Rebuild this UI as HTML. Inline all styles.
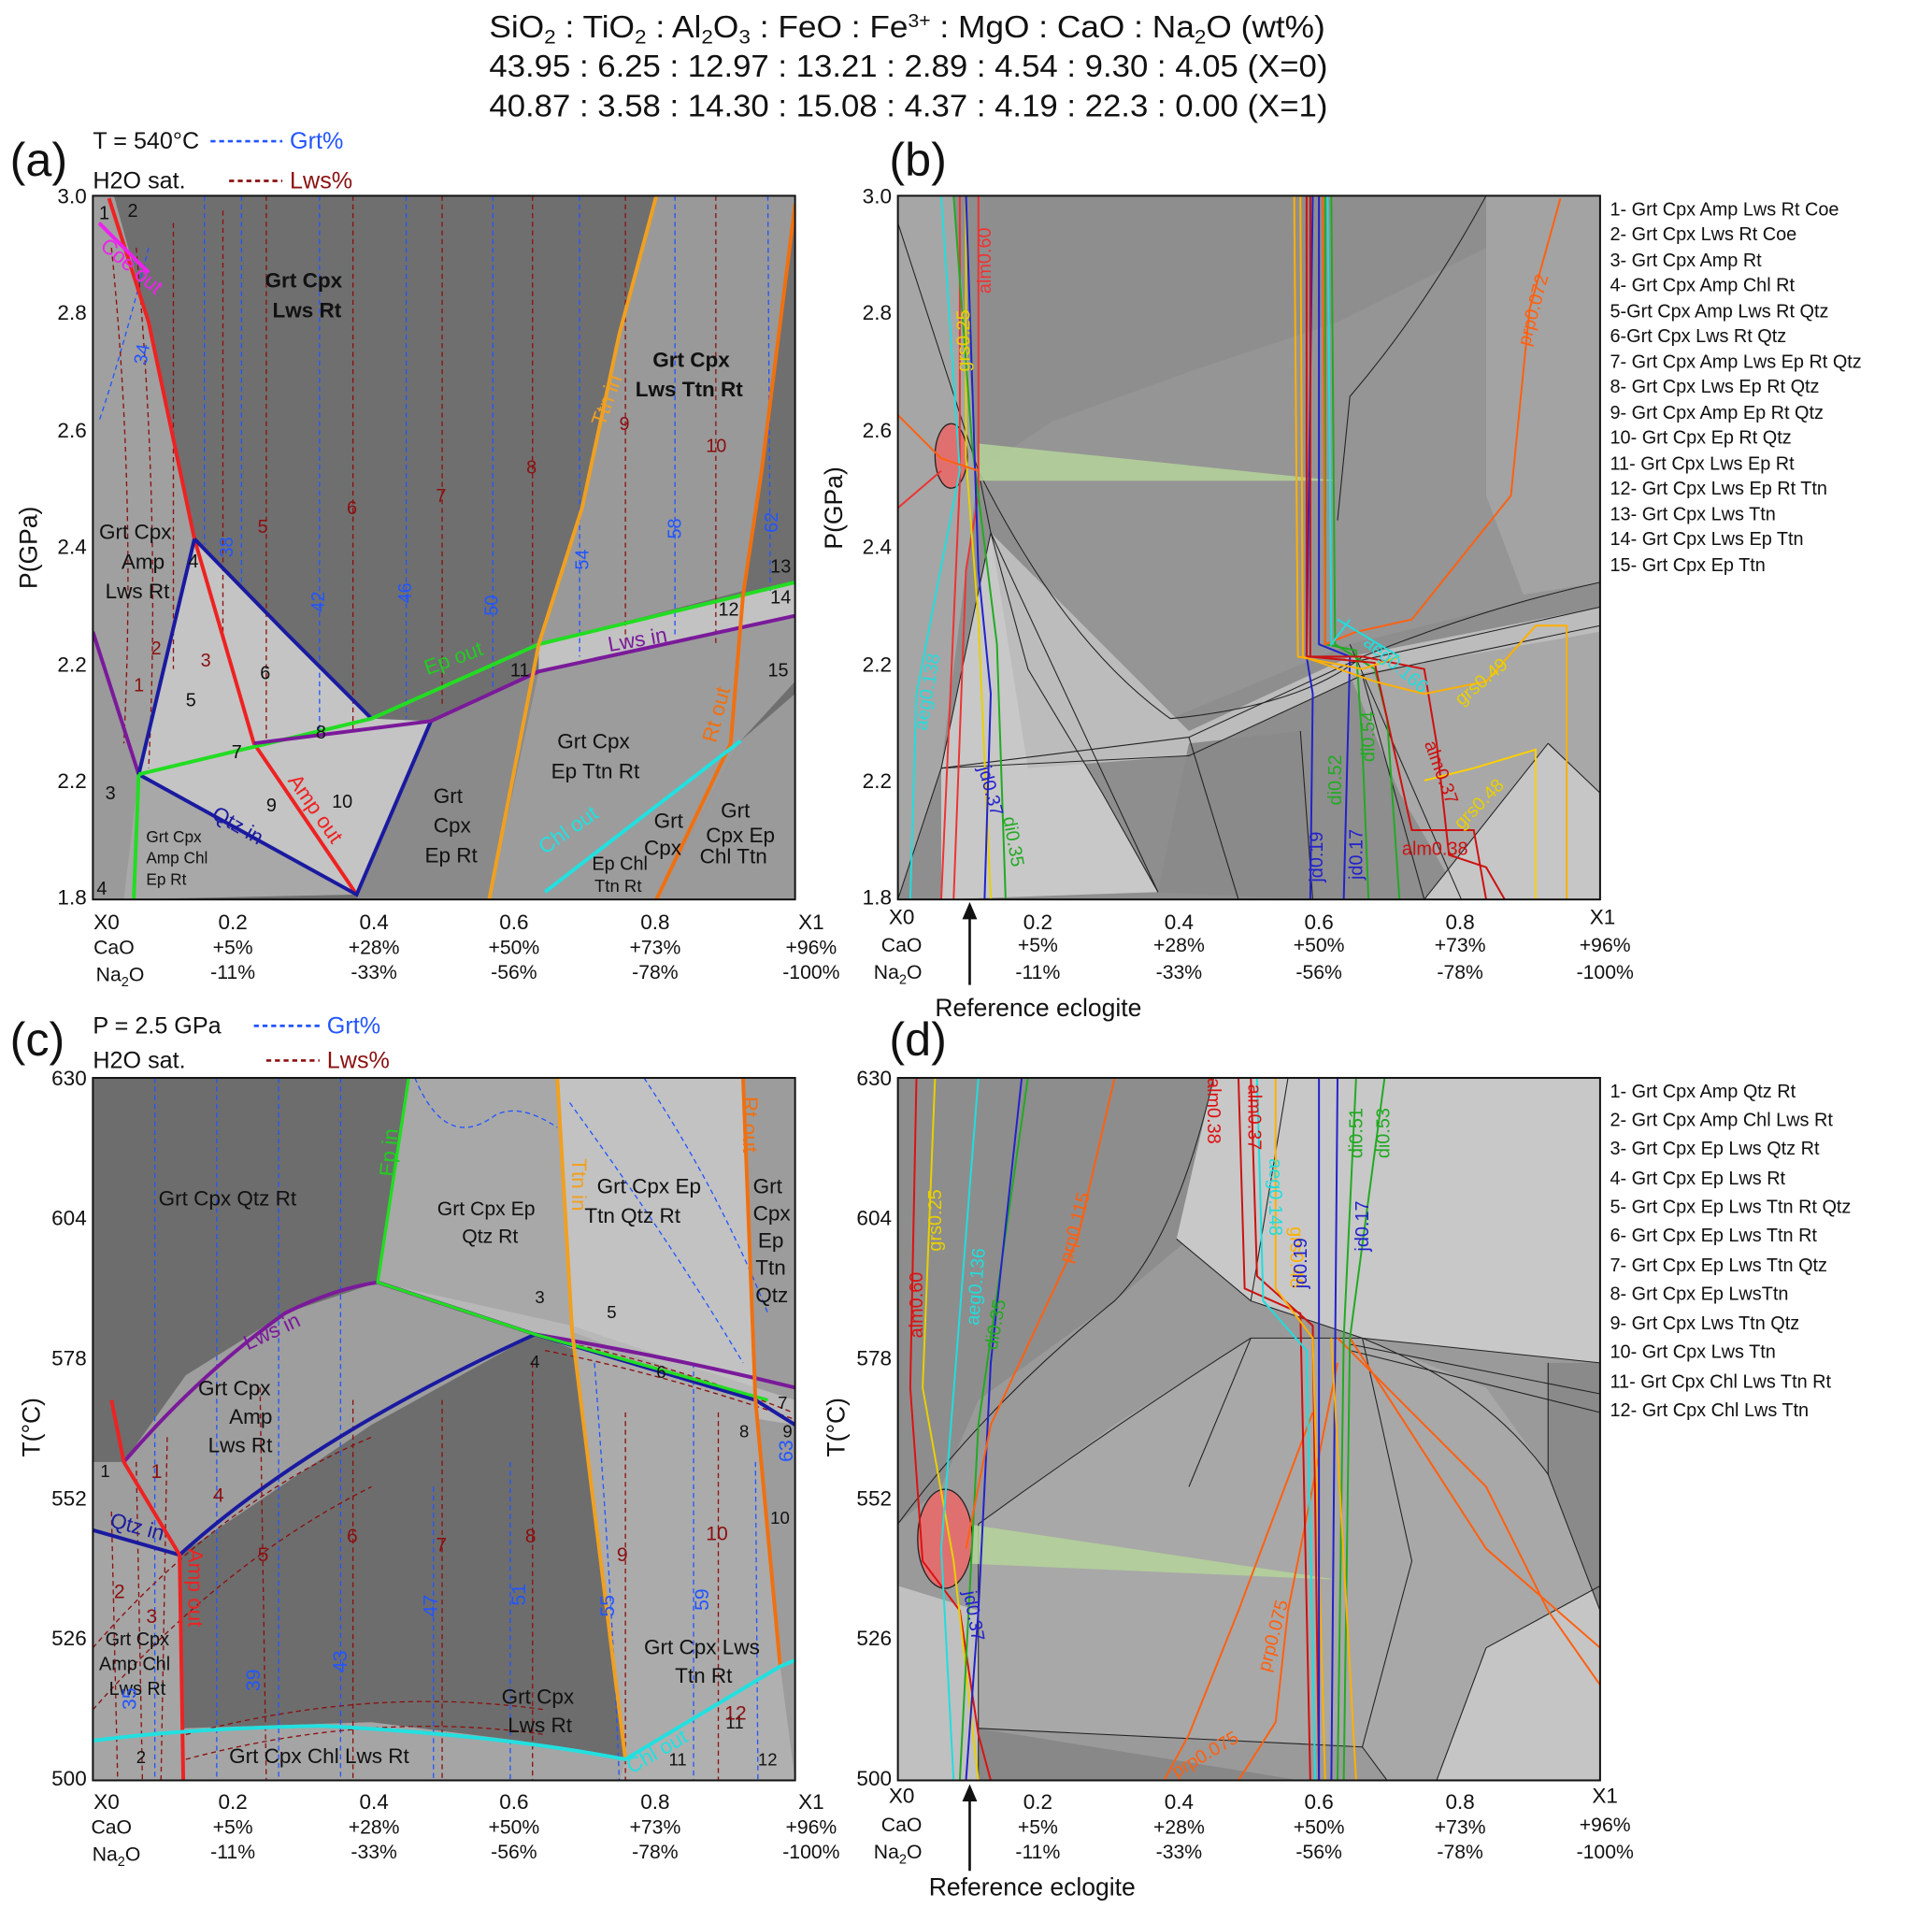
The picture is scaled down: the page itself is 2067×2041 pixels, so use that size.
<!DOCTYPE html>
<html><head><meta charset="utf-8"><style>
html,body{margin:0;padding:0;background:#fff}
svg{display:block}
text{font-family:"Liberation Sans",Arial,sans-serif}
.t{font-size:17px;fill:#111}
.l{font-size:15px;fill:#111}
.r{font-size:16px;fill:#111}
</style></head><body>
<svg width="2067" height="2041" viewBox="0 0 1560 1540" preserveAspectRatio="none" xmlns="http://www.w3.org/2000/svg">
<!-- header -->
<g font-size="25" fill="#111">
<text x="395" y="30" textLength="675" lengthAdjust="spacingAndGlyphs">SiO<tspan font-size="16" dy="5">2</tspan><tspan dy="-5"> : TiO</tspan><tspan font-size="16" dy="5">2</tspan><tspan dy="-5"> : Al</tspan><tspan font-size="16" dy="5">2</tspan><tspan dy="-5">O</tspan><tspan font-size="16" dy="5">3</tspan><tspan dy="-5"> :  FeO : Fe</tspan><tspan font-size="15" dy="-8">3+</tspan><tspan dy="8"> : MgO : CaO : Na</tspan><tspan font-size="16" dy="5">2</tspan><tspan dy="-5">O  (wt%)</tspan></text>
<text x="395" y="62" textLength="677" lengthAdjust="spacingAndGlyphs">43.95 : 6.25 : 12.97 : 13.21 : 2.89 : 4.54 : 9.30 : 4.05 (X=0)</text>
<text x="395" y="94" textLength="677" lengthAdjust="spacingAndGlyphs">40.87 : 3.58 : 14.30 : 15.08 : 4.37 : 4.19 : 22.3 : 0.00 (X=1)</text>
</g>

<!-- ================= PANEL A ================= -->
<text x="8" y="142" font-size="38" fill="#111">(a)</text>
<text x="75" y="120" font-size="19" fill="#111">T = 540°C</text>
<line x1="170" y1="114" x2="228" y2="114" stroke="#2255ff" stroke-width="2" stroke-dasharray="4,3"/>
<text x="234" y="120" font-size="19" fill="#2255ff">Grt%</text>
<text x="75" y="152" font-size="19" fill="#111">H2O sat.</text>
<line x1="185" y1="146" x2="228" y2="146" stroke="#8b1010" stroke-width="2" stroke-dasharray="4,3"/>
<text x="234" y="152" font-size="19" fill="#8b1010">Lws%</text>
<svg x="75" y="158" width="567" height="568" viewBox="75 158 567 568" overflow="hidden">
<rect x="75" y="158" width="567" height="568" fill="#6f6f6f"/>
<polygon points="75,158 92,158 120,260 157,435 205,600 288,722 75,726" fill="#a0a0a0"/>
<polygon points="157,435 230,510 300,580 348,582 288,722 112,625" fill="#c4c4c4"/>
<polygon points="75,510 112,625 100,726 75,726" fill="#9a9a9a"/>
<polygon points="112,625 288,722 100,726" fill="#a8a8a8"/>
<polygon points="348,582 435,542 395,726 288,726" fill="#8a8a8a"/>
<polygon points="435,542 642,497 642,550 598,598 530,726 395,726" fill="#9c9c9c"/>
<polygon points="530,158 500,270 470,410 435,520 600,477 615,380 642,165 642,158" fill="#999"/>
<polygon points="435,520 642,470 642,497 435,542" fill="#c2c2c2"/>
<polygon points="598,598 642,560 642,726 530,726" fill="#9a9a9a"/>
<g stroke="#2255ff" stroke-width="1" stroke-dasharray="4,3" fill="none">
<path d="M120,200 Q100,280 80,340"/><path d="M165,158 L165,440"/><path d="M195,158 L195,470"/><path d="M258,158 L258,590"/><path d="M328,158 L328,580"/><path d="M398,158 L398,560"/><path d="M468,158 L468,530"/><path d="M545,158 L545,515"/><path d="M620,158 L622,480"/>
</g>
<g stroke="#8b1010" stroke-width="1" stroke-dasharray="4,3" fill="none">
<path d="M90,200 Q110,400 100,600"/><path d="M110,200 Q130,420 120,620"/><path d="M140,180 L140,540"/><path d="M180,170 L180,520"/><path d="M215,158 L215,600"/><path d="M285,158 L285,590"/><path d="M357,158 L357,570"/><path d="M430,158 L430,520"/><path d="M505,158 L505,520"/><path d="M578,158 L578,520"/>
</g>
<path d="M88,160 L120,260 L157,435 L205,600 L288,722" stroke="#ee2222" stroke-width="3" fill="none"/>
<path d="M80,180 L120,220" stroke="#ee22ee" stroke-width="3"/>
<path d="M75,510 L112,625" stroke="#7a1a9a" stroke-width="3" fill="none"/>
<path d="M157,435 L112,625 L288,722 L348,582 M157,435 L230,510 L300,580" stroke="#1a1aa0" stroke-width="3" fill="none"/>
<path d="M112,625 L300,580 L435,520 L642,470" stroke="#22dd22" stroke-width="3" fill="none"/>
<path d="M108,726 L112,625" stroke="#22dd22" stroke-width="3"/>
<path d="M205,600 L348,582 L435,542 L642,497" stroke="#7a1a9a" stroke-width="3" fill="none"/>
<path d="M530,158 L500,270 L470,410 L435,520 L395,726" stroke="#f0a020" stroke-width="3" fill="none"/>
<path d="M642,165 L615,380 L600,480 L590,600 L530,726" stroke="#f07010" stroke-width="3" fill="none"/>
<path d="M440,720 L598,598" stroke="#22e0e0" stroke-width="3"/>
</svg>
<rect x="75" y="158" width="567" height="568" fill="none" stroke="#111" stroke-width="1.5"/>
<g font-size="17" fill="#111">
<text x="214" y="232" font-weight="bold">Grt Cpx</text><text x="220" y="256" font-weight="bold">Lws Rt</text>
<text x="527" y="296" font-weight="bold">Grt Cpx</text><text x="513" y="320" font-weight="bold">Lws Ttn Rt</text>
<text x="80" y="435">Grt Cpx</text><text x="98" y="459">Amp</text><text x="85" y="483">Lws Rt</text>
<text x="450" y="604">Grt Cpx</text><text x="445" y="628">Ep Ttn Rt</text>
<text x="350" y="648">Grt</text><text x="350" y="672">Cpx</text><text x="343" y="696">Ep Rt</text>
<text x="118" y="680" font-size="13">Grt Cpx</text><text x="118" y="697" font-size="13">Amp Chl</text><text x="118" y="714" font-size="13">Ep Rt</text>
<text x="528" y="668">Grt</text><text x="520" y="690">Cpx</text><text x="478" y="702" font-size="15">Ep Chl</text><text x="480" y="720" font-size="14">Ttn Rt</text>
<text x="582" y="660">Grt</text><text x="570" y="680">Cpx Ep</text><text x="565" y="697">Chl Ttn</text>
<text x="345" y="545" fill="#22cc22" transform="rotate(-20 345 545)">Ep out</text>
<text x="492" y="526" fill="#7a1a9a" transform="rotate(-10 492 526)">Lws in</text>
<text x="440" y="690" fill="#22e0e0" transform="rotate(-35 440 690)">Chl out</text>
<text x="170" y="660" fill="#1a1aa0" transform="rotate(30 170 660)">Qtz in</text>
<text x="232" y="630" fill="#ee2222" transform="rotate(55 232 630)">Amp out</text>
<text x="578" y="600" fill="#f07010" transform="rotate(-75 578 600)">Rt out</text>
<text x="488" y="345" fill="#f0a020" transform="rotate(-70 488 345)">Ttn in</text>
<text x="80" y="200" fill="#ee22ee" transform="rotate(40 80 200)">Coe out</text>
<g font-size="15"><text x="80" y="177">1</text><text x="103" y="175">2</text><text x="85" y="645">3</text><text x="152" y="458">4</text><text x="150" y="570">5</text><text x="210" y="548">6</text><text x="187" y="612">7</text><text x="255" y="596">8</text><text x="215" y="655">9</text><text x="268" y="652">10</text><text x="412" y="546">11</text><text x="580" y="497">12</text><text x="622" y="462">13</text><text x="622" y="487">14</text><text x="620" y="546">15</text><text x="78" y="722">4</text></g>
<g font-size="15" fill="#8b1010"><text x="108" y="558">1</text><text x="122" y="528">2</text><text x="162" y="538">3</text><text x="208" y="430">5</text><text x="280" y="415">6</text><text x="352" y="405">7</text><text x="425" y="382">8</text><text x="500" y="347">9</text><text x="570" y="365">10</text></g>
<g font-size="15" fill="#2255ff"><text x="188" y="450" transform="rotate(-90 188 450)">38</text><text x="262" y="494" transform="rotate(-90 262 494)">42</text><text x="332" y="487" transform="rotate(-90 332 487)">46</text><text x="402" y="497" transform="rotate(-90 402 497)">50</text><text x="475" y="460" transform="rotate(-90 475 460)">54</text><text x="550" y="435" transform="rotate(-90 550 435)">58</text><text x="628" y="430" transform="rotate(-90 628 430)">62</text><text x="118" y="295" transform="rotate(-80 118 295)">34</text></g>
</g>

<!-- axes A -->
<g class="t" text-anchor="end">
<text x="70" y="164">3.0</text><text x="70" y="258">2.8</text><text x="70" y="353">2.6</text><text x="70" y="447">2.4</text><text x="70" y="542">2.2</text><text x="70" y="636">2.2</text><text x="70" y="730">1.8</text>
</g>
<text x="30" y="442" font-size="20" fill="#111" transform="rotate(-90 30 442)" text-anchor="middle">P(GPa)</text>
<g class="t" text-anchor="middle">
<text x="86" y="750">X0</text><text x="188" y="750">0.2</text><text x="302" y="750">0.4</text><text x="415" y="750">0.6</text><text x="529" y="750">0.8</text><text x="655" y="750">X1</text>
<text x="92" y="770" font-size="16">CaO</text><text x="188" y="770" font-size="16">+5%</text><text x="302" y="770" font-size="16">+28%</text><text x="415" y="770" font-size="16">+50%</text><text x="529" y="770" font-size="16">+73%</text><text x="655" y="770" font-size="16">+96%</text>
<text x="97" y="792" font-size="16">Na<tspan font-size="11" dy="4">2</tspan><tspan dy="-4">O</tspan></text><text x="188" y="790" font-size="16">-11%</text><text x="302" y="790" font-size="16">-33%</text><text x="415" y="790" font-size="16">-56%</text><text x="529" y="790" font-size="16">-78%</text><text x="655" y="790" font-size="16">-100%</text>
</g>

<!-- ================= PANEL B ================= -->
<text x="718" y="142" font-size="38" fill="#111">(b)</text>
<svg x="725" y="158" width="567" height="568" viewBox="725 158 567 568" overflow="hidden">
<rect x="725" y="158" width="567" height="568" fill="#8e8e8e"/>
<polygon points="725,158 770,158 790,380 760,620 725,726" fill="#a6a6a6"/>
<polygon points="790,380 870,530 945,580 1090,520 1292,470 1292,158 1240,158 1200,200 1080,260 960,300 850,340" fill="#959595"/>
<polygon points="760,620 800,430 830,540 890,640 935,720 760,726" fill="#c8c8c8"/>
<polygon points="800,430 960,590 1090,530 1292,490 1292,510 1100,545 960,610 830,620" fill="#bcbcbc"/>
<polygon points="1090,545 1292,510 1292,726 1180,726 1130,640" fill="#a8a8a8"/>
<polygon points="1150,726 1250,600 1292,640 1292,726" fill="#c6c6c6"/>
<polygon points="1200,158 1292,158 1292,470 1230,480 1200,400" fill="#a3a3a3"/>
<polygon points="935,720 960,600 1050,590 1060,726" fill="#8a8a8a"/>
<g stroke="#222" stroke-width="0.8" fill="none">
<path d="M725,180 L790,380 L800,430 L760,620 L725,726"/><path d="M790,380 Q860,520 945,580 Q1050,570 1100,530 Q1200,490 1292,470"/>
<path d="M800,430 L830,540 L890,640 L935,720"/><path d="M760,620 L960,610 L1100,545 L1292,505"/><path d="M760,620 L960,595 L1090,535 L1292,490"/>
<path d="M800,430 Q860,560 935,720"/><path d="M1200,158 Q1150,250 1090,320 L1080,420"/><path d="M1100,545 L1150,726"/><path d="M1250,600 L1150,726"/><path d="M1250,600 L1292,640"/>
<path d="M960,595 L1000,726"/><path d="M1050,590 L1060,726"/><path d="M1090,520 L1180,726"/>
</g>
<polygon points="790,358 1080,388 790,388" fill="#b5d49a" opacity="0.85"/>
<ellipse cx="768" cy="368" rx="13" ry="26" fill="#e07070" stroke="#222" stroke-width="1"/>
<g fill="none" stroke-width="1.5">
<path d="M775,158 L775,390 L760,726" stroke="#ee3333"/><path d="M790,158 L790,400 L780,460 L770,726" stroke="#ee3333"/>
<path d="M780,158 L780,370 L790,500 L800,726" stroke="#e8d000"/><path d="M770,158 L785,360 L805,520 L812,726" stroke="#22aa22"/>
<path d="M760,158 L775,380 L740,560 L735,726" stroke="#22dddd"/><path d="M780,158 L790,460 L800,560 L795,726" stroke="#2222cc"/>
<path d="M725,410 L760,380" stroke="#ee3333"/><path d="M690,300 L760,370 L790,380" stroke="#ff6010"/>
<path d="M1060,158 L1055,530 L1060,560 L1058,726" stroke="#2222cc"/><path d="M1065,158 L1065,520 L1090,530 L1085,726" stroke="#2222cc"/>
<path d="M1070,158 L1070,520 L1095,525 L1100,600 L1105,726" stroke="#22aa22"/><path d="M1075,158 L1078,520 L1110,540 L1120,580 L1130,726" stroke="#22aa22"/>
<path d="M1055,158 L1055,530 L1100,530 L1150,540 L1160,600 L1170,690 L1200,700 L1215,726" stroke="#cc1111"/>
<path d="M1058,158 L1058,530 L1110,535 L1140,670 L1190,670 L1200,726" stroke="#cc1111"/>
<path d="M1050,158 L1052,530 L1110,550 L1150,560 L1200,550 L1240,505 L1265,505 L1265,726" stroke="#ffb000"/>
<path d="M1045,158 L1048,530 L1100,540 L1130,530" stroke="#ffb000"/>
<path d="M1068,158 L1070,520 L1095,510 L1140,500 L1220,400 L1235,250 L1260,160" stroke="#ff6010"/>
<path d="M1072,158 L1075,520 L1090,500" stroke="#22dddd"/><path d="M1080,500 L1130,530" stroke="#22dddd"/>
<path d="M1150,630 L1190,620 L1240,605 L1240,726" stroke="#ffd000"/>
</g>
<g font-size="15">
<text x="800" y="237" fill="#ee3333" transform="rotate(-90 800 237)">alm0.60</text>
<text x="783" y="300" fill="#e8d000" transform="rotate(-90 783 300)">grs0.25</text>
<text x="668" y="280" fill="#ff6010" transform="rotate(50 668 280)">prp0.112</text>
<text x="1235" y="280" fill="#ff6010" transform="rotate(-75 1235 280)">prp0.072</text>
<text x="748" y="590" fill="#22dddd" transform="rotate(-80 748 590)">aeg0.138</text>
<text x="790" y="620" fill="#2222cc" transform="rotate(75 790 620)">jd0.37</text>
<text x="810" y="660" fill="#22aa22" transform="rotate(80 810 660)">di0.35</text>
<text x="1100" y="520" fill="#22dddd" transform="rotate(40 1100 520)">aeg0.166</text>
<text x="1180" y="570" fill="#e8d000" transform="rotate(-40 1180 570)">grs0.49</text>
<text x="1150" y="600" fill="#cc1111" transform="rotate(70 1150 600)">alm0.37</text>
<text x="1132" y="690" fill="#cc1111">alm0.38</text>
<text x="1180" y="670" fill="#e8d000" transform="rotate(-45 1180 670)">grs0.48</text>
<text x="1068" y="712" fill="#2222cc" transform="rotate(-90 1068 712)">jd0.19</text>
<text x="1100" y="710" fill="#2222cc" transform="rotate(-90 1100 710)">jd0.17</text>
<text x="1083" y="650" fill="#22aa22" transform="rotate(-90 1083 650)">di0.52</text>
<text x="1110" y="615" fill="#22aa22" transform="rotate(-90 1110 615)">di0.54</text>
</g>
</svg>
<rect x="725" y="158" width="567" height="568" fill="none" stroke="#111" stroke-width="1.5"/>
<g class="t" text-anchor="end">
<text x="720" y="164">3.0</text><text x="720" y="258">2.8</text><text x="720" y="353">2.6</text><text x="720" y="447">2.4</text><text x="720" y="542">2.2</text><text x="720" y="636">2.2</text><text x="720" y="730">1.8</text>
</g>
<text x="680" y="410" font-size="20" fill="#111" transform="rotate(-90 680 410)" text-anchor="middle">P(GPa)</text>
<g class="t" text-anchor="middle">
<text x="728" y="746">X0</text><text x="838" y="750">0.2</text><text x="952" y="750">0.4</text><text x="1065" y="750">0.6</text><text x="1179" y="750">0.8</text><text x="1294" y="746">X1</text>
<text x="728" y="768" font-size="16">CaO</text><text x="838" y="768" font-size="16">+5%</text><text x="952" y="768" font-size="16">+28%</text><text x="1065" y="768" font-size="16">+50%</text><text x="1179" y="768" font-size="16">+73%</text><text x="1296" y="768" font-size="16">+96%</text>
<text x="725" y="790" font-size="16">Na<tspan font-size="11" dy="4">2</tspan><tspan dy="-4">O</tspan></text><text x="838" y="790" font-size="16">-11%</text><text x="952" y="790" font-size="16">-33%</text><text x="1065" y="790" font-size="16">-56%</text><text x="1179" y="790" font-size="16">-78%</text><text x="1296" y="790" font-size="16">-100%</text>
</g>
<path d="M783,795 L783,738" stroke="#111" stroke-width="2"/><polygon points="783,728 777,742 789,742" fill="#111"/>
<text x="755" y="820" font-size="20" fill="#111">Reference eclogite</text>
<g class="l">
<text x="1300" y="174">1- Grt Cpx Amp Lws Rt Coe</text><text x="1300" y="194">2- Grt Cpx Lws Rt Coe</text><text x="1300" y="215">3- Grt Cpx Amp Rt</text><text x="1300" y="235">4- Grt Cpx Amp Chl Rt</text><text x="1300" y="256">5-Grt Cpx Amp Lws Rt Qtz</text><text x="1300" y="276">6-Grt Cpx Lws Rt Qtz</text><text x="1300" y="297">7- Grt Cpx Amp Lws Ep Rt Qtz</text><text x="1300" y="317">8- Grt Cpx Lws Ep Rt Qtz</text><text x="1300" y="338">9- Grt Cpx Amp Ep Rt Qtz</text><text x="1300" y="358">10- Grt Cpx Ep Rt Qtz</text><text x="1300" y="379">11- Grt Cpx Lws Ep Rt</text><text x="1300" y="399">12- Grt Cpx Lws Ep Rt Ttn</text><text x="1300" y="420">13- Grt Cpx Lws Ttn</text><text x="1300" y="440">14- Grt Cpx Lws Ep Ttn</text><text x="1300" y="461">15- Grt Cpx Ep Ttn</text>
</g>

<!-- ================= PANEL C ================= -->
<text x="8" y="852" font-size="38" fill="#111">(c)</text>
<text x="75" y="834" font-size="19" fill="#111">P = 2.5 GPa</text>
<line x1="205" y1="828" x2="258" y2="828" stroke="#2255ff" stroke-width="2" stroke-dasharray="4,3"/>
<text x="264" y="834" font-size="19" fill="#2255ff">Grt%</text>
<text x="75" y="862" font-size="19" fill="#111">H2O sat.</text>
<line x1="215" y1="856" x2="258" y2="856" stroke="#8b1010" stroke-width="2" stroke-dasharray="4,3"/>
<text x="264" y="862" font-size="19" fill="#8b1010">Lws%</text>
<svg x="75" y="870" width="567" height="567" viewBox="75 870 567 567" overflow="hidden">
<rect x="75" y="870" width="567" height="567" fill="#6d6d6d"/>
<polygon points="330,870 450,870 462,1075 432,1077 305,1035" fill="#a8a8a8"/>
<polygon points="450,870 600,870 610,1130 462,1075" fill="#c2c2c2"/>
<polygon points="600,870 642,870 642,1437 630,1437 630,1345 610,1130" fill="#9c9c9c"/>
<polygon points="100,1180 150,1110 230,1060 305,1035 432,1077 300,1150 145,1255 75,1235 75,1180" fill="#9e9e9e"/>
<polygon points="305,1035 462,1070 610,1120 642,1130 642,1150 610,1145 432,1077" fill="#b8b8b8"/>
<polygon points="462,1075 610,1130 630,1345 505,1420" fill="#ababab"/>
<polygon points="75,1235 145,1255 148,1437 75,1437" fill="#a5a5a5"/>
<polygon points="145,1395 300,1390 420,1405 505,1420 500,1437 145,1437" fill="#a5a5a5"/>
<polygon points="505,1420 630,1345 642,1437 500,1437" fill="#b0b0b0"/>
<g stroke="#2255ff" stroke-width="1" stroke-dasharray="4,3" fill="none">
<path d="M125,870 L125,1437"/><path d="M175,870 L175,1437"/><path d="M225,870 L225,1437"/><path d="M275,870 L275,1437"/><path d="M350,1200 L350,1437"/><path d="M412,1180 L412,1437"/><path d="M480,1100 Q495,1300 500,1437"/><path d="M560,1100 L560,1437"/><path d="M610,1180 L612,1437"/><path d="M335,870 Q360,930 400,900 Q420,890 450,910"/><path d="M460,890 Q540,1000 600,1100"/><path d="M520,870 Q580,960 620,1060"/>
</g>
<g stroke="#8b1010" stroke-width="1" stroke-dasharray="4,3" fill="none">
<path d="M90,1220 L95,1437"/><path d="M110,1180 L115,1437"/><path d="M135,1160 L130,1437"/><path d="M210,1120 L215,1437"/><path d="M285,1130 L285,1437"/><path d="M357,1130 L357,1437"/><path d="M430,1100 L430,1437"/><path d="M505,1140 L505,1437"/><path d="M580,1140 L580,1437"/>
<path d="M150,1420 Q300,1380 440,1400"/><path d="M150,1400 Q300,1360 440,1380"/><path d="M75,1380 Q180,1260 300,1200"/><path d="M75,1330 Q180,1210 300,1160"/>
<path d="M440,1080 Q540,1100 640,1140"/><path d="M440,1090 Q540,1110 640,1145"/>
</g>
<path d="M100,1180 Q160,1110 230,1060 Q270,1040 305,1035 L432,1077 Q540,1095 642,1120" stroke="#7a1a9a" stroke-width="3" fill="none"/>
<path d="M75,1235 L145,1255 Q250,1160 432,1077 L610,1130 L642,1150" stroke="#1a1aa0" stroke-width="3" fill="none"/>
<path d="M330,870 L305,1035 L432,1077 L620,1130" stroke="#22dd22" stroke-width="2.5" fill="none"/>
<path d="M450,870 L462,1075 L505,1420" stroke="#f0a020" stroke-width="3" fill="none"/>
<path d="M600,870 L610,1130 L630,1345" stroke="#f07010" stroke-width="3" fill="none"/>
<path d="M90,1130 L100,1180 L145,1255 L148,1437" stroke="#ee2222" stroke-width="3" fill="none"/>
<path d="M75,1405 Q150,1395 260,1393 Q400,1400 505,1420 L630,1345 L642,1340" stroke="#22e0e0" stroke-width="3" fill="none"/>
</svg>
<rect x="75" y="870" width="567" height="567" fill="none" stroke="#111" stroke-width="1.5"/>
<g font-size="17" fill="#111">
<text x="128" y="973">Grt Cpx Qtz Rt</text>
<text x="353" y="981" font-size="16">Grt Cpx Ep</text><text x="373" y="1003" font-size="16">Qtz Rt</text>
<text x="482" y="963">Grt Cpx Ep</text><text x="472" y="987">Ttn Qtz Rt</text>
<text x="608" y="963">Grt</text><text x="608" y="985">Cpx</text><text x="612" y="1007">Ep</text><text x="610" y="1029">Ttn</text><text x="610" y="1051">Qtz</text>
<text x="160" y="1126">Grt Cpx</text><text x="185" y="1149">Amp</text><text x="168" y="1172">Lws Rt</text>
<text x="520" y="1335">Grt Cpx Lws</text><text x="545" y="1358">Ttn Rt</text>
<text x="405" y="1375">Grt Cpx</text><text x="410" y="1398">Lws Rt</text>
<text x="185" y="1423">Grt Cpx Chl Lws Rt</text>
<text x="85" y="1328" font-size="15">Grt Cpx</text><text x="80" y="1348" font-size="15">Amp Chl</text><text x="88" y="1368" font-size="15">Lws Rt</text>
<text x="200" y="1090" fill="#7a1a9a" transform="rotate(-25 200 1090)">Lws in</text>
<text x="88" y="1232" fill="#1a1aa0" transform="rotate(15 88 1232)">Qtz in</text>
<text x="152" y="1250" fill="#ee2222" transform="rotate(90 152 1250)">Amp out</text>
<text x="318" y="950" fill="#22cc22" transform="rotate(-85 318 950)">Ep in</text>
<text x="462" y="935" fill="#f0a020" transform="rotate(90 462 935)">Ttn in</text>
<text x="600" y="885" fill="#f07010" transform="rotate(90 600 885)">Rt out</text>
<text x="510" y="1432" fill="#22e0e0" transform="rotate(-30 510 1432)">Chl out</text>
<g font-size="14"><text x="81" y="1192">1</text><text x="110" y="1423">2</text><text x="432" y="1052">3</text><text x="428" y="1104">4</text><text x="490" y="1064">5</text><text x="530" y="1112">6</text><text x="628" y="1137">7</text><text x="597" y="1160">8</text><text x="632" y="1160">9</text><text x="622" y="1230">10</text><text x="586" y="1395">11</text><text x="540" y="1425">11</text><text x="612" y="1425">12</text></g>
<g font-size="16" fill="#8b1010"><text x="122" y="1193">1</text><text x="92" y="1290">2</text><text x="118" y="1310">3</text><text x="172" y="1212">4</text><text x="208" y="1260">5</text><text x="280" y="1245">6</text><text x="352" y="1252">7</text><text x="424" y="1245">8</text><text x="498" y="1260">9</text><text x="570" y="1243">10</text><text x="585" y="1388">12</text></g>
<g font-size="16" fill="#2255ff"><text x="210" y="1365" transform="rotate(-90 210 1365)">39</text><text x="280" y="1350" transform="rotate(-90 280 1350)">43</text><text x="353" y="1305" transform="rotate(-90 353 1305)">47</text><text x="424" y="1296" transform="rotate(-90 424 1296)">51</text><text x="496" y="1305" transform="rotate(-90 496 1305)">55</text><text x="572" y="1300" transform="rotate(-90 572 1300)">59</text><text x="640" y="1180" transform="rotate(-90 640 1180)">63</text><text x="110" y="1380" transform="rotate(-90 110 1380)">35</text></g>
</g>
<g class="t" text-anchor="end">
<text x="70" y="876">630</text><text x="70" y="989">604</text><text x="70" y="1102">578</text><text x="70" y="1215">552</text><text x="70" y="1328">526</text><text x="70" y="1441">500</text>
</g>
<text x="32" y="1152" font-size="20" fill="#111" transform="rotate(-90 32 1152)" text-anchor="middle">T(°C)</text>
<g class="t" text-anchor="middle">
<text x="86" y="1460">X0</text><text x="188" y="1460">0.2</text><text x="302" y="1460">0.4</text><text x="415" y="1460">0.6</text><text x="529" y="1460">0.8</text><text x="655" y="1460">X1</text>
<text x="90" y="1480" font-size="16">CaO</text><text x="188" y="1480" font-size="16">+5%</text><text x="302" y="1480" font-size="16">+28%</text><text x="415" y="1480" font-size="16">+50%</text><text x="529" y="1480" font-size="16">+73%</text><text x="655" y="1480" font-size="16">+96%</text>
<text x="94" y="1502" font-size="16">Na<tspan font-size="11" dy="4">2</tspan><tspan dy="-4">O</tspan></text><text x="188" y="1500" font-size="16">-11%</text><text x="302" y="1500" font-size="16">-33%</text><text x="415" y="1500" font-size="16">-56%</text><text x="529" y="1500" font-size="16">-78%</text><text x="655" y="1500" font-size="16">-100%</text>
</g>

<!-- ================= PANEL D ================= -->
<text x="718" y="852" font-size="38" fill="#111">(d)</text>
<svg x="725" y="870" width="567" height="567" viewBox="725 870 567 567" overflow="hidden">
<rect x="725" y="870" width="567" height="567" fill="#9a9a9a"/>
<polygon points="725,870 980,870 960,1000 900,1050 790,1130 760,1200 725,1230" fill="#8d8d8d"/>
<polygon points="980,870 1292,870 1292,1100 1100,1080 1010,1050 950,1000" fill="#c8c8c8"/>
<polygon points="790,1230 900,1150 1010,1080 1100,1080 1200,1120 1250,1190 1292,1300 1292,1437 1120,1437 1100,1410 900,1400 790,1395" fill="#a8a8a8"/>
<polygon points="790,1395 1050,1437 790,1437" fill="#888"/>
<polygon points="1200,1330 1292,1280 1292,1437 1160,1437" fill="#c5c5c5"/>
<polygon points="725,1280 790,1300 790,1437 725,1437" fill="#c0c0c0"/>
<polygon points="1250,1100 1292,1100 1292,1300 1250,1190" fill="#8a8a8a"/>
<g stroke="#222" stroke-width="0.8" fill="none">
<path d="M725,1230 Q800,1130 900,1050 Q950,1000 980,870"/><path d="M950,1000 L1010,1050 L1100,1080 L1292,1100"/><path d="M1010,1050 L1040,870"/>
<path d="M790,1230 Q900,1150 1010,1080 L1100,1080 Q1200,1120 1250,1190 L1292,1300"/><path d="M790,1230 L790,1437"/><path d="M790,1395 L1100,1410 L1120,1437"/>
<path d="M1100,1080 L1140,1260 L1100,1410"/><path d="M1200,1330 L1160,1437"/><path d="M1200,1330 L1292,1280"/><path d="M1250,1100 L1250,1190"/><path d="M1010,1080 L960,1200"/>
<path d="M1090,1085 L1292,1125"/><path d="M1090,1090 L1292,1140"/>
</g>
<polygon points="780,1230 1080,1275 780,1262" fill="#b5d49a" opacity="0.85"/>
<ellipse cx="763" cy="1242" rx="22" ry="40" fill="#e07070" stroke="#222" stroke-width="1"/>
<g fill="none" stroke-width="1.5">
<path d="M740,870 L735,1120 L745,1260 L775,1300 L790,1400 L800,1437" stroke="#dd1111"/>
<path d="M755,870 L745,1120 L770,1260 L790,1437" stroke="#e8d000"/>
<path d="M790,870 L760,1250 L770,1437" stroke="#22dddd"/>
<path d="M830,870 L790,1150 L775,1437" stroke="#22aa22"/>
<path d="M825,870 L800,1100 L790,1300 L780,1437" stroke="#2222cc"/>
<path d="M900,870 L870,1000 L800,1150 L780,1250" stroke="#ff6010"/>
<path d="M1060,1140 L1000,1300 L960,1400 L940,1437" stroke="#ff6010"/>
<path d="M1080,1100 L1040,1300 L1030,1390 L1000,1437" stroke="#ff6010"/>
<path d="M1080,1080 L1200,1200 L1250,1300 L1292,1360" stroke="#ff6010"/><path d="M1090,1080 L1200,1250 L1292,1330" stroke="#ff6010"/>
<path d="M1000,870 L1005,1040 L1050,1060 L1058,1437" stroke="#cc1111"/><path d="M1010,870 L1015,1030 L1060,1070 L1065,1437" stroke="#cc1111"/>
<path d="M1030,870 L1030,1040 L1060,1080 L1070,1437" stroke="#ffb000"/><path d="M1015,870 L1020,1050 L1055,1090 L1062,1437" stroke="#22dddd"/>
<path d="M1065,870 L1065,1437" stroke="#2222cc"/><path d="M1080,870 L1075,1437" stroke="#2222cc"/>
<path d="M1095,870 L1085,1080 L1080,1437" stroke="#22aa22"/><path d="M1118,870 L1090,1080 L1085,1437" stroke="#22aa22"/>
<path d="M1075,1080 L1095,1437" stroke="#ffb000"/>
</g>
<g font-size="15">
<text x="745" y="1080" fill="#dd1111" transform="rotate(-90 745 1080)">alm0.60</text>
<text x="760" y="1010" fill="#e8d000" transform="rotate(-90 760 1010)">grs0.25</text>
<text x="790" y="1070" fill="#22dddd" transform="rotate(-85 790 1070)">aeg0.136</text>
<text x="805" y="1090" fill="#22aa22" transform="rotate(-80 805 1090)">di0.35</text>
<text x="865" y="1020" fill="#ff6010" transform="rotate(-75 865 1020)">prp0.115</text>
<text x="778" y="1285" fill="#2222cc" transform="rotate(80 778 1285)">jd0.37</text>
<text x="1025" y="1350" fill="#ff6010" transform="rotate(-75 1025 1350)">prp0.075</text>
<text x="950" y="1435" fill="#ff6010" transform="rotate(-30 950 1435)">prp0.075</text>
<text x="975" y="870" fill="#dd1111" transform="rotate(90 975 870)">alm0.38</text>
<text x="1008" y="875" fill="#dd1111" transform="rotate(90 1008 875)">alm0.37</text>
<text x="1025" y="935" fill="#22dddd" transform="rotate(90 1025 935)">aeg0.148</text>
<text x="1042" y="990" fill="#ffb000" transform="rotate(90 1042 990)">grs0.48</text>
<text x="1055" y="1040" fill="#2222cc" transform="rotate(-90 1055 1040)">jd0.19</text>
<text x="1105" y="1010" fill="#2222cc" transform="rotate(-90 1105 1010)">jd0.17</text>
<text x="1100" y="935" fill="#22aa22" transform="rotate(-90 1100 935)">di0.51</text>
<text x="1122" y="935" fill="#22aa22" transform="rotate(-90 1122 935)">di0.53</text>
</g>
</svg>
<rect x="725" y="870" width="567" height="567" fill="none" stroke="#111" stroke-width="1.5"/>
<g class="t" text-anchor="end">
<text x="720" y="876">630</text><text x="720" y="989">604</text><text x="720" y="1102">578</text><text x="720" y="1215">552</text><text x="720" y="1328">526</text><text x="720" y="1441">500</text>
</g>
<text x="682" y="1152" font-size="20" fill="#111" transform="rotate(-90 682 1152)" text-anchor="middle">T(°C)</text>
<g class="t" text-anchor="middle">
<text x="728" y="1455">X0</text><text x="838" y="1460">0.2</text><text x="952" y="1460">0.4</text><text x="1065" y="1460">0.6</text><text x="1179" y="1460">0.8</text><text x="1296" y="1455">X1</text>
<text x="728" y="1478" font-size="16">CaO</text><text x="838" y="1480" font-size="16">+5%</text><text x="952" y="1480" font-size="16">+28%</text><text x="1065" y="1480" font-size="16">+50%</text><text x="1179" y="1480" font-size="16">+73%</text><text x="1296" y="1478" font-size="16">+96%</text>
<text x="725" y="1500" font-size="16">Na<tspan font-size="11" dy="4">2</tspan><tspan dy="-4">O</tspan></text><text x="838" y="1500" font-size="16">-11%</text><text x="952" y="1500" font-size="16">-33%</text><text x="1065" y="1500" font-size="16">-56%</text><text x="1179" y="1500" font-size="16">-78%</text><text x="1296" y="1500" font-size="16">-100%</text>
</g>
<path d="M783,1510 L783,1450" stroke="#111" stroke-width="2"/><polygon points="783,1440 777,1454 789,1454" fill="#111"/>
<text x="750" y="1530" font-size="20" fill="#111">Reference eclogite</text>
<g class="l" font-size="16">
<text x="1300" y="886">1- Grt Cpx Amp Qtz Rt</text><text x="1300" y="909">2- Grt Cpx Amp Chl Lws Rt</text><text x="1300" y="932">3- Grt Cpx Ep Lws Qtz Rt</text><text x="1300" y="956">4- Grt Cpx Ep Lws Rt</text><text x="1300" y="979">5- Grt Cpx Ep Lws Ttn Rt Qtz</text><text x="1300" y="1002">6- Grt Cpx Ep Lws Ttn Rt</text><text x="1300" y="1026">7- Grt Cpx Ep Lws Ttn Qtz</text><text x="1300" y="1049">8- Grt Cpx Ep LwsTtn</text><text x="1300" y="1073">9- Grt Cpx Lws Ttn Qtz</text><text x="1300" y="1096">10- Grt Cpx Lws Ttn</text><text x="1300" y="1120">11- Grt Cpx Chl Lws Ttn Rt</text><text x="1300" y="1143">12- Grt Cpx Chl Lws Ttn</text>
</g>
</svg>
</body></html>
